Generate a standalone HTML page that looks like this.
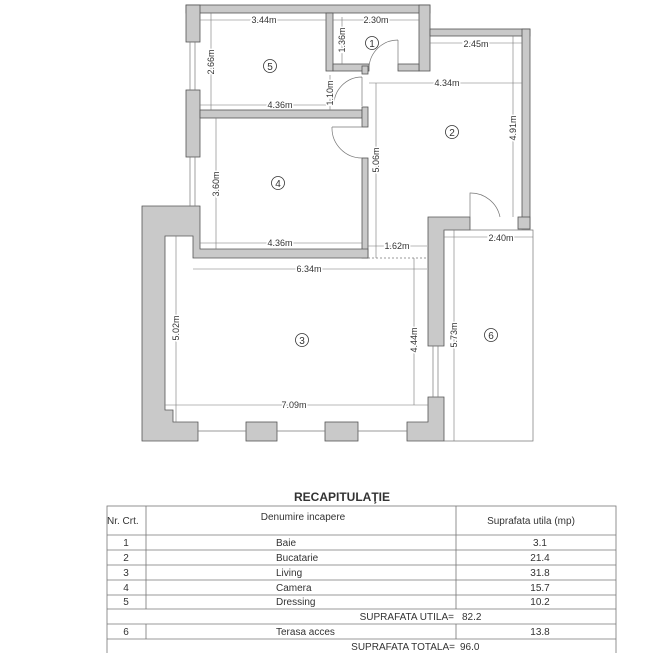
<!DOCTYPE html>
<html><head><meta charset="utf-8"><style>
body{margin:0;background:#fff;width:665px;height:653px;overflow:hidden}
svg{display:block}
text{font-family:"Liberation Sans",sans-serif;fill:#333}
</style></head><body>
<svg width="665" height="653" viewBox="0 0 665 653">
<g fill="#c9c9c9" stroke="#555" stroke-width="0.8">
<rect x="186" y="5" width="244" height="8"/>
<rect x="186" y="5" width="14" height="37"/>
<rect x="186" y="90" width="14" height="67"/>
<rect x="419" y="5" width="11" height="66"/>
<rect x="430" y="29" width="100" height="7"/>
<rect x="522" y="29" width="8" height="200"/>
<rect x="518" y="217" width="12" height="12"/>
<rect x="326" y="13" width="7" height="58"/>
<rect x="333" y="64" width="36" height="7"/>
<rect x="398" y="64" width="21" height="7"/>
<rect x="362" y="66" width="6" height="8"/>
<rect x="200" y="110" width="162" height="8"/>
<rect x="362" y="107" width="6" height="20"/>
<rect x="362" y="158" width="6" height="100"/>
<path d="M142,206 H200 V249 H368 V258 H193 V236 H165 V410 H173 V422 H198 V441 H142 Z"/>
<path d="M428,217 H470 V230 H444 V346 H428 Z"/>
<path d="M428,397 H444 V441 H407 V422 H428 Z"/>
<rect x="246" y="422" width="31" height="19"/>
<rect x="325" y="422" width="33" height="19"/>
</g>
<g fill="none" stroke="#777" stroke-width="0.7">
<line x1="190" y1="42" x2="190" y2="90"/><line x1="195" y1="42" x2="195" y2="90"/>
<line x1="190" y1="157" x2="190" y2="206"/><line x1="195" y1="157" x2="195" y2="206"/>
<line x1="198" y1="431" x2="246" y2="431"/><line x1="277" y1="431" x2="325" y2="431"/><line x1="358" y1="431" x2="407" y2="431"/>
<line x1="433" y1="346" x2="433" y2="397"/><line x1="438" y1="346" x2="438" y2="397"/>
<path d="M444,230 H533 V441 H444"/>
<line x1="368" y1="258" x2="428" y2="258" stroke-dasharray="2,2"/>
<path d="M398,40 V68 M369,68 A29,29 0 0 1 398,40"/>
<path d="M362,77 V106 M362,77 A28,28 0 0 0 334,106"/>
<path d="M362,127 L332,127 M332,127 A30,30 0 0 0 362,158"/>
<path d="M470,217 V193 A30,30 0 0 1 500,217"/>
</g>
<g stroke="#777" stroke-width="0.6">
<line x1="200" y1="20" x2="326" y2="20"/><line x1="333" y1="20" x2="419" y2="20"/>
<line x1="430" y1="43" x2="522" y2="43"/><line x1="369" y1="83" x2="522" y2="83"/>
<line x1="200" y1="105" x2="326" y2="105"/><line x1="200" y1="243" x2="362" y2="243"/>
<line x1="368" y1="246" x2="427" y2="246"/><line x1="193" y1="269" x2="427" y2="269"/>
<line x1="165" y1="405" x2="428" y2="405"/><line x1="444" y1="237" x2="533" y2="237"/>
<line x1="211" y1="13" x2="211" y2="110"/><line x1="342" y1="17" x2="342" y2="64"/>
<line x1="330" y1="75" x2="330" y2="110"/><line x1="216" y1="118" x2="216" y2="249"/>
<line x1="376" y1="83" x2="376" y2="258"/><line x1="513" y1="36" x2="513" y2="217"/>
<line x1="176" y1="236" x2="176" y2="422"/><line x1="414" y1="258" x2="414" y2="405"/>
<line x1="454" y1="230" x2="454" y2="441"/>
</g>
<g font-size="9" text-anchor="middle" stroke="#fff" stroke-width="3" style="paint-order:stroke">
<text x="264" y="23">3.44m</text>
<text x="376" y="23">2.30m</text>
<text x="476" y="47">2.45m</text>
<text x="447" y="86">4.34m</text>
<text x="280" y="108">4.36m</text>
<text x="280" y="246">4.36m</text>
<text x="397" y="249">1.62m</text>
<text x="309" y="272">6.34m</text>
<text x="294" y="408">7.09m</text>
<text x="501" y="241">2.40m</text>
<text transform="translate(214,62) rotate(-90)">2.66m</text>
<text transform="translate(345,40) rotate(-90)">1.36m</text>
<text transform="translate(333,93) rotate(-90)">1.10m</text>
<text transform="translate(219,184) rotate(-90)">3.60m</text>
<text transform="translate(379,160) rotate(-90)">5.06m</text>
<text transform="translate(516,128) rotate(-90)">4.91m</text>
<text transform="translate(179,328) rotate(-90)">5.02m</text>
<text transform="translate(417,340) rotate(-90)">4.44m</text>
<text transform="translate(457,335) rotate(-90)">5.73m</text>
</g>
<g fill="none" stroke="#333" stroke-width="0.8">
<circle cx="372" cy="43" r="6.5"/><circle cx="270" cy="66" r="6.5"/><circle cx="452" cy="132" r="6.5"/>
<circle cx="278" cy="183" r="6.5"/><circle cx="302" cy="340" r="6.5"/><circle cx="491" cy="335" r="6.5"/>
</g>
<g font-size="10" text-anchor="middle">
<text x="372" y="47">1</text><text x="270" y="70">5</text><text x="452" y="136">2</text>
<text x="278" y="187">4</text><text x="302" y="344">3</text><text x="491" y="339">6</text>
</g>
<text x="342" y="501" font-size="12" font-weight="bold" text-anchor="middle" fill="#444">RECAPITULAŢIE</text>
<g stroke="#777" stroke-width="0.8" fill="none">
<rect x="107" y="506" width="509" height="150"/>
<line x1="146" y1="506" x2="146" y2="609"/><line x1="146" y1="624" x2="146" y2="639"/>
<line x1="456" y1="506" x2="456" y2="609"/><line x1="456" y1="624" x2="456" y2="639"/>
<line x1="107" y1="535" x2="616" y2="535"/><line x1="107" y1="550" x2="616" y2="550"/>
<line x1="107" y1="565" x2="616" y2="565"/><line x1="107" y1="580" x2="616" y2="580"/>
<line x1="107" y1="595" x2="616" y2="595"/><line x1="107" y1="609" x2="616" y2="609"/>
<line x1="107" y1="624" x2="616" y2="624"/><line x1="107" y1="639" x2="616" y2="639"/>
</g>
<g font-size="10" fill="#222">
<text x="107" y="524">Nr. Crt.</text>
<text x="303" y="520" text-anchor="middle">Denumire incapere</text>
<text x="531" y="524" text-anchor="middle">Suprafata utila (mp)</text>
<g text-anchor="middle">
<text x="126" y="546">1</text><text x="126" y="561">2</text><text x="126" y="576">3</text><text x="126" y="591">4</text><text x="126" y="605">5</text><text x="126" y="635">6</text>
<text x="540" y="546">3.1</text><text x="540" y="561">21.4</text><text x="540" y="576">31.8</text><text x="540" y="591">15.7</text><text x="540" y="605">10.2</text><text x="540" y="635">13.8</text>
</g>
<text x="276" y="546">Baie</text><text x="276" y="561">Bucatarie</text><text x="276" y="576">Living</text><text x="276" y="591">Camera</text><text x="276" y="605">Dressing</text><text x="276" y="635">Terasa acces</text>
<text x="454" y="620" text-anchor="end">SUPRAFATA UTILA=</text><text x="462" y="620">82.2</text>
<text x="455" y="650" text-anchor="end">SUPRAFATA TOTALA=</text><text x="460" y="650">96.0</text>
</g>
</svg>
</body></html>
